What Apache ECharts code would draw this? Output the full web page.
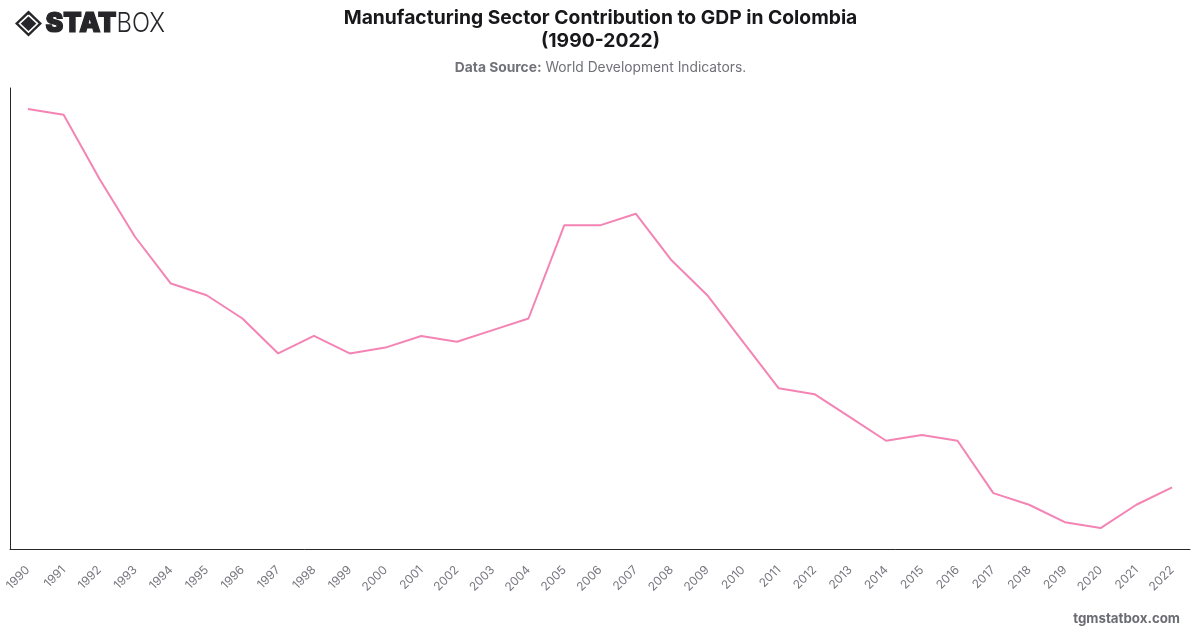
<!DOCTYPE html>
<html>
<head>
<meta charset="utf-8">
<style>html,body{margin:0;padding:0;background:#fff}#chart{width:1200px;height:628px}</style>
<script src="https://cdn.jsdelivr.net/npm/echarts@6/dist/echarts.min.js"></script>
</head>
<body>
<div id="chart"></div>
<script>
// Manufacturing, value added (% of GDP), Colombia
const years = ['1990','1991','1992','1993','1994','1995','1996','1997','1998','1999','2000','2001','2002','2003','2004','2005','2006','2007','2008','2009','2010','2011','2012','2013','2014','2015','2016','2017','2018','2019','2020','2021','2022'];
const manufacturingShare = [19.0,18.9,17.8,16.8,16.0,15.8,15.4,14.8,15.1,14.8,14.9,15.1,15.0,15.2,15.4,17.0,17.0,17.2,16.4,15.8,15.0,14.2,14.1,13.7,13.3,13.4,13.3,12.4,12.2,11.9,11.8,12.2,12.5];
const titleText = 'Manufacturing Sector Contribution to GDP in Colombia\n(1990-2022)';
const sourceLabel = 'Data Source:';
const sourceText = ' World Development Indicators.';
const siteText = 'tgmstatbox.com';

const chart = echarts.init(document.getElementById('chart'), null, {renderer: 'canvas'});
chart.setOption({
  animation: false,
  backgroundColor: '#ffffff',
  textStyle: {fontFamily: 'Inter'},
  title: [{
    text: titleText,
    left: 595.5, top: 1, textAlign: 'center',
    textStyle: {fontFamily: 'Inter', fontSize: 19.3, fontWeight: 700, color: '#18181b', lineHeight: 23.5}
  }, {
    text: '{b|' + sourceLabel + '}{n|' + sourceText + '}',
    left: 595.5, top: 56, textAlign: 'center',
    textStyle: {
      rich: {
        b: {fontFamily: 'Inter', fontSize: 13.8, fontWeight: 700, color: '#71717a'},
        n: {fontFamily: 'Inter', fontSize: 13.8, fontWeight: 400, color: '#71717a'}
      }
    }
  }, {
    text: siteText,
    right: 15, top: 607,
    textStyle: {fontFamily: 'Inter', fontSize: 13.3, fontWeight: 700, color: '#6b6b73'}
  }],
  grid: {left: 10, right: 10, top: 88, bottom: 79},
  xAxis: {
    type: 'category',
    data: years,
    boundaryGap: true,
    axisLine: {lineStyle: {color: '#27272a', width: 1}},
    axisTick: {show: false},
    axisLabel: {rotate: 45, interval: 0, margin: 19, color: '#777780', fontFamily: 'Inter', fontSize: 12},
    splitLine: {show: false}
  },
  yAxis: {
    type: 'value',
    min: 11.44,
    max: 19.36,
    axisLine: {show: true, lineStyle: {color: '#27272a', width: 1}},
    axisTick: {show: false},
    axisLabel: {show: false},
    splitLine: {show: false}
  },
  series: [{
    type: 'line',
    data: manufacturingShare,
    symbol: 'none',
    lineStyle: {color: '#f484b4', width: 2}
  }],
  graphic: [{
    // STATBOX wordmark with its diamond emblem
    type: 'group', left: 15, top: 10,
    children: [
      {type: 'polygon', shape: {points: [[13.5,0],[27,13],[13.5,26],[0,13]]}, style: {fill: '#26262a'}},
      {type: 'polyline', shape: {points: [[13.5,4.5],[22.5,13],[13.5,21.5],[4.5,13],[13.5,4.5]]}, style: {stroke: '#fff', fill: null, lineWidth: 1.6}},
      {type: 'polygon', shape: {points: [[13.5,8],[18.5,13],[13.5,18],[8.5,13]]}, style: {fill: '#26262a'}},
      {type: 'text', x: 30.5, y: 0, scaleX: 0.99, style: {text: 'STAT', fontFamily: 'Inter', fontWeight: 900, fontSize: 27, fill: '#26262a', stroke: '#26262a', lineWidth: 1.2}},
      {type: 'text', x: 101.5, y: 0, scaleX: 0.88, style: {text: 'BOX', fontFamily: 'Inter', fontWeight: 300, fontSize: 27, fill: '#26262a'}}
    ]
  }]
});
</script>
</body>
</html>
